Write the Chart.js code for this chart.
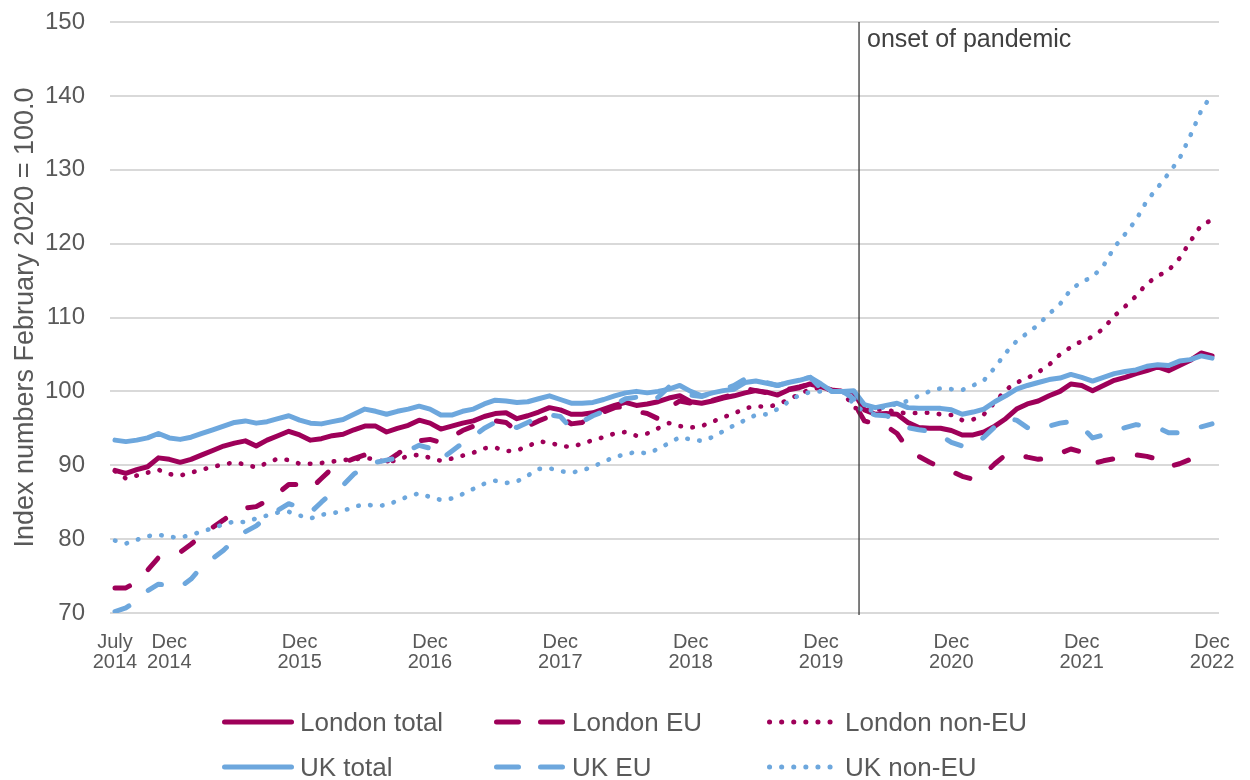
<!DOCTYPE html>
<html lang="en">
<head>
  <meta charset="UTF-8">
  <title>Index numbers, London and UK</title>
  <script src="https://cdn.jsdelivr.net/npm/chart.js"></script>
  <style>
    body { margin: 0; background: #fff; }
    #wrap { position: relative; width: 1250px; height: 780px; font-family: "Liberation Sans", Arial, sans-serif; }
    #legend .item { position: absolute; display: flex; align-items: center; height: 30px; font-size: 26px; color: #595959; white-space: nowrap; }
    #legend svg { margin-right: 6px; }
  </style>
</head>
<body>
  <div id="wrap">
    <canvas id="chart" width="1250" height="780"></canvas>
    <div id="legend"></div>
  </div>

  <script>
    // monthly categories, July 2014 .. December 2022
    const monthNames = ['Jan','Feb','Mar','Apr','May','Jun','Jul','Aug','Sep','Oct','Nov','Dec'];
    const months = [];
    for (let y = 2014; y <= 2022; y++) {
      for (let m = 0; m < 12; m++) {
        if (y === 2014 && m < 6) continue;
        months.push(monthNames[m] + ' ' + y);
      }
    }

    const tickMonths = ['Jul 2014','Dec 2014','Dec 2015','Dec 2016','Dec 2017','Dec 2018','Dec 2019','Dec 2020','Dec 2021','Dec 2022'];
    const tickLabels = [['July','2014'],['Dec','2014'],['Dec','2015'],['Dec','2016'],['Dec','2017'],['Dec','2018'],['Dec','2019'],['Dec','2020'],['Dec','2021'],['Dec','2022']];
    const yTicks = [70, 80, 90, 100, 110, 120, 130, 140, 150];
    const pandemicMonth = 'Mar 2020';

    const londonTotal = [
      89.3, 88.9, 89.4, 89.8, 91.0, 90.8, 90.4, 90.8, 91.4, 92.0,
      92.6, 93.0, 93.3, 92.6, 93.4, 94.0, 94.6, 94.1, 93.4, 93.6,
      94.0, 94.2, 94.8, 95.3, 95.3, 94.5, 95.0, 95.4, 96.1, 95.7,
      94.9, 95.3, 95.7, 96.0, 96.6, 97.0, 97.1, 96.3, 96.7, 97.2,
      97.8, 97.5, 96.9, 96.9, 97.1, 97.6, 98.1, 98.5, 98.1, 98.3,
      98.6, 99.1, 99.4, 98.6, 98.4, 98.7, 99.1, 99.4, 99.8, 100.1,
      99.9, 99.5, 100.2, 100.5, 101.0, 100.6, 100.2, 100.0, 99.9, 97.5,
      96.9, 97.0, 96.9, 95.8, 95.1, 95.0, 95.0, 94.7, 94.1, 94.1,
      94.5, 95.3, 96.3, 97.6, 98.3, 98.7, 99.4, 100.0, 101.0, 100.8,
      100.1, 100.8, 101.5, 101.9, 102.4, 102.8, 103.3, 102.8, 103.5, 104.2,
      105.2, 104.8
    ];
    const londonEU = [
      73.4, 73.4, 74.2, 75.8, 77.5, 77.9, 78.2, 79.3, 80.5, 81.6,
      82.6, 83.7, 84.2, 84.4, 85.2, 86.2, 87.4, 87.4, 86.8, 88.2,
      89.6, 90.3, 90.9, 91.4, 91.2, 90.5, 91.5, 92.6, 93.3, 93.5,
      93.1, 93.8, 94.7, 95.3, 95.8, 96.0, 95.8, 94.6, 95.3, 96.0,
      96.6, 96.6, 95.6, 95.8, 96.5, 97.2, 97.8, 98.0, 97.3, 97.0,
      96.3, 97.8, 98.7, 98.4, 98.0, 98.8, 99.2, 99.6, 100.4, 100.1,
      99.8, 99.8, 100.3, 100.6, 101.0, 100.6, 100.1, 100.0, 98.5, 96.0,
      95.6, 95.3, 94.3, 92.2, 91.2, 90.4, 89.7, 89.2, 88.5, 88.1,
      88.8, 90.2, 91.4, 91.5, 91.1, 90.8, 91.0, 91.6, 92.2, 91.8,
      90.2, 90.6, 90.9, 91.2, 91.4, 91.2, 90.8, 89.8, 90.2, 90.8,
      91.3, 91.2
    ];
    const londonNonEU = [
      89.2, 88.2, 88.6, 89.0, 89.4, 88.8, 88.6, 89.0, 89.4, 89.8,
      90.1, 90.4, 90.1, 89.7, 90.3, 90.9, 90.7, 90.2, 90.2, 90.3,
      90.5, 90.7, 90.8, 91.0, 90.8, 90.4, 90.7, 91.3, 91.4, 91.0,
      90.6, 90.9, 91.3, 91.7, 92.3, 92.4, 91.9, 92.0, 92.6, 93.2,
      93.1, 92.6, 92.5, 92.9, 93.4, 93.8, 94.3, 94.5, 94.0, 94.3,
      95.0, 95.7, 95.3, 95.1, 95.3, 95.9, 96.5, 97.0, 97.7, 98.0,
      97.9, 98.2, 98.9, 99.6, 100.3, 100.5, 100.2, 100.0, 97.8, 97.4,
      97.6, 97.5, 97.2, 97.0, 97.1, 97.1, 96.9, 96.8, 96.1, 96.2,
      96.9, 98.5, 100.2, 101.2, 101.8, 102.6, 103.6, 105.0, 106.0, 106.8,
      107.4, 108.5, 110.2, 111.5, 112.9, 114.6, 115.6, 116.4, 118.0, 120.3,
      122.5, 123.2
    ];
    const ukTotal = [
      93.4, 93.2, 93.4, 93.7, 94.3, 93.7, 93.5, 93.8, 94.3, 94.8,
      95.3, 95.8, 96.0, 95.7, 95.9, 96.3, 96.7, 96.1, 95.7, 95.6,
      95.9, 96.2, 96.9, 97.6, 97.3, 96.9, 97.3, 97.6, 98.0, 97.6,
      96.8, 96.8, 97.3, 97.6, 98.3, 98.8, 98.7, 98.5, 98.6, 99.0,
      99.4, 98.9, 98.4, 98.4, 98.5, 98.9, 99.4, 99.8, 100.0, 99.8,
      100.0, 100.3, 100.8, 100.0, 99.4, 99.8, 100.1, 100.3, 101.2, 101.4,
      101.1, 100.8, 101.2, 101.5, 101.9, 101.0, 100.0, 100.0, 100.1, 98.2,
      97.8, 98.1, 98.4, 97.8, 97.7, 97.7, 97.7, 97.5, 96.9, 97.2,
      97.6, 98.6, 99.4, 100.3, 100.8, 101.2, 101.6, 101.8, 102.3, 101.9,
      101.4, 101.9, 102.4, 102.7, 102.9, 103.4, 103.6, 103.5, 104.1, 104.3,
      104.8, 104.5
    ];
    const ukEU = [
      70.2, 70.7, 71.6, 73.0, 73.9, 73.7, 73.5, 74.6, 76.3, 77.4,
      78.5, 79.9, 81.0, 81.8, 83.0, 83.9, 84.8, 84.3, 83.6, 85.0,
      86.3, 87.3, 88.8, 89.9, 90.4, 90.7, 91.0, 92.0, 92.7, 92.3,
      90.8, 91.9, 93.0, 93.9, 95.0, 95.8, 95.6, 95.1, 95.8, 96.5,
      96.8, 96.6, 95.0, 95.9, 96.7, 97.3, 98.2, 99.0, 99.2, 98.4,
      99.2, 100.6, 100.2, 99.5, 99.3, 99.8, 100.3, 100.8, 101.7, 101.4,
      101.2, 100.8, 101.2, 101.6, 101.9, 100.4, 100.0, 100.0, 99.0, 97.4,
      96.8, 96.7, 96.2, 95.1, 94.8, 94.6, 94.0, 93.1, 92.6, 92.5,
      93.8, 95.2, 96.4, 96.1, 95.1, 94.8, 95.3, 95.7, 95.9, 95.2,
      93.7, 94.1, 94.6, 95.1, 95.5, 95.3, 95.1, 94.4, 94.4, 94.8,
      95.2, 95.6
    ];
    const ukNonEU = [
      79.8, 79.4, 79.9, 80.4, 80.6, 80.3, 80.2, 80.6, 81.0, 81.5,
      82.0, 82.4, 82.3, 82.8, 83.2, 83.6, 83.7, 83.2, 82.8, 83.3,
      83.5, 83.8, 84.4, 84.7, 84.5, 84.6, 85.2, 85.8, 86.2, 85.7,
      85.3, 85.5, 86.1, 86.8, 87.5, 87.9, 87.6, 87.8, 88.6, 89.5,
      89.6, 89.2, 89.0, 89.3, 89.8, 90.5, 91.1, 91.5, 91.8, 91.6,
      92.2, 93.0, 93.8, 93.5, 93.3, 93.8, 94.6, 95.4, 96.1, 96.8,
      96.9, 97.6, 98.6, 99.5, 99.9, 100.0, 100.0, 100.0, 98.3, 97.2,
      97.6, 97.9, 98.3, 98.7, 99.4, 100.0, 100.4, 100.3, 100.2, 100.8,
      101.5, 103.2, 105.2, 106.8, 107.9, 109.0, 110.5, 111.8, 113.8, 114.8,
      115.5, 117.0, 119.5, 121.3, 123.2, 125.8, 127.6, 129.5, 131.5, 134.6,
      138.0, 140.2
    ];

    const red = '#9e0059';
    const blue = '#6da7dd';
    const text = '#595959';
    const fontFamily = '"Liberation Sans", Arial, sans-serif';
    const dashed = [15, 25];
    const dotted = [0.5, 11.5];

    function series(label, values, color, dash, order) {
      return {
        label,
        data: values.map((v, i) => ({ x: i, y: v })),
        borderColor: color,
        backgroundColor: color,
        borderWidth: dash === dotted ? 4.6 : 5,
        borderDash: dash,
        borderCapStyle: 'round',
        borderJoinStyle: 'round',
        pointRadius: 0,
        tension: 0,
        order
      };
    }

    const datasets = [
      series('London total', londonTotal, red, [], 6),
      series('London EU', londonEU, red, dashed, 5),
      series('London non-EU', londonNonEU, red, dotted, 4),
      series('UK total', ukTotal, blue, [], 3),
      series('UK EU', ukEU, blue, dashed, 2),
      series('UK non-EU', ukNonEU, blue, dotted, 1)
    ];

    const pandemicLine = {
      id: 'pandemicLine',
      afterDatasetsDraw(chart) {
        const { ctx, chartArea, scales } = chart;
        const px = scales.x.getPixelForValue(months.indexOf(pandemicMonth) + 0.5);
        ctx.save();
        ctx.strokeStyle = '#3a3a3a';
        ctx.lineWidth = 1.3;
        ctx.beginPath();
        ctx.moveTo(px, chartArea.top);
        ctx.lineTo(px, chartArea.bottom + 2);
        ctx.stroke();
        ctx.fillStyle = '#404040';
        ctx.font = '25px ' + fontFamily;
        ctx.textBaseline = 'alphabetic';
        ctx.fillText('onset of pandemic', px + 8, 47);
        ctx.restore();
      }
    };

    const tickIdx = tickMonths.map(m => months.indexOf(m));

    new Chart(document.getElementById('chart'), {
      type: 'line',
      data: { datasets },
      plugins: [pandemicLine],
      options: {
        responsive: false,
        animation: false,
        layout: { padding: { top: 22, right: 31, bottom: 0, left: 0 } },
        plugins: {
          legend: { display: false },
          tooltip: { enabled: false }
        },
        scales: {
          x: {
            type: 'linear',
            min: -0.46,
            max: 101.64,
            afterBuildTicks: (scale) => { scale.ticks = tickIdx.map(v => ({ value: v })); },
            afterFit: (scale) => { scale.height = 167; },
            grid: { display: false },
            border: { display: false },
            ticks: {
              autoSkip: false,
              maxRotation: 0,
              padding: 11,
              color: text,
              font: { family: fontFamily, size: 20, lineHeight: 1 },
              callback: (value) => tickLabels[tickIdx.indexOf(value)]
            }
          },
          y: {
            min: 70,
            max: 150,
            afterBuildTicks: (scale) => { scale.ticks = yTicks.map(v => ({ value: v })); },
            afterFit: (scale) => {
              scale.width = 110;
              scale.paddingTop = 0;
              scale.paddingBottom = 0;
            },
            grid: { color: '#d9d9d9', lineWidth: 2, drawTicks: false },
            border: { display: false },
            ticks: {
              padding: 25,
              color: text,
              font: { family: fontFamily, size: 24 }
            },
            title: {
              display: true,
              text: 'Index numbers February 2020 = 100.0',
              color: text,
              padding: { top: 9, bottom: 0 },
              font: { family: fontFamily, size: 27 }
            }
          }
        }
      }
    });

    // legend: three columns, two rows
    const legendCols = [222, 494, 767];
    const legendRows = [722, 767];
    const legend = document.getElementById('legend');
    datasets.forEach((ds, i) => {
      const item = document.createElement('div');
      item.className = 'item';
      item.style.left = legendCols[i % 3] + 'px';
      item.style.top = (legendRows[Math.floor(i / 3)] - 15) + 'px';
      let dash = '';
      if (ds.borderDash === dashed) dash = ' stroke-dasharray="22 22"';
      if (ds.borderDash === dotted) dash = ' stroke-dasharray="0.1 12"';
      item.innerHTML =
        '<svg width="72" height="10"><line x1="2.5" y1="5" x2="69.5" y2="5" stroke="' + ds.borderColor +
        '" stroke-width="5" stroke-linecap="round"' + dash + '/></svg><span>' + ds.label + '</span>';
      legend.appendChild(item);
    });
  </script>
</body>
</html>
